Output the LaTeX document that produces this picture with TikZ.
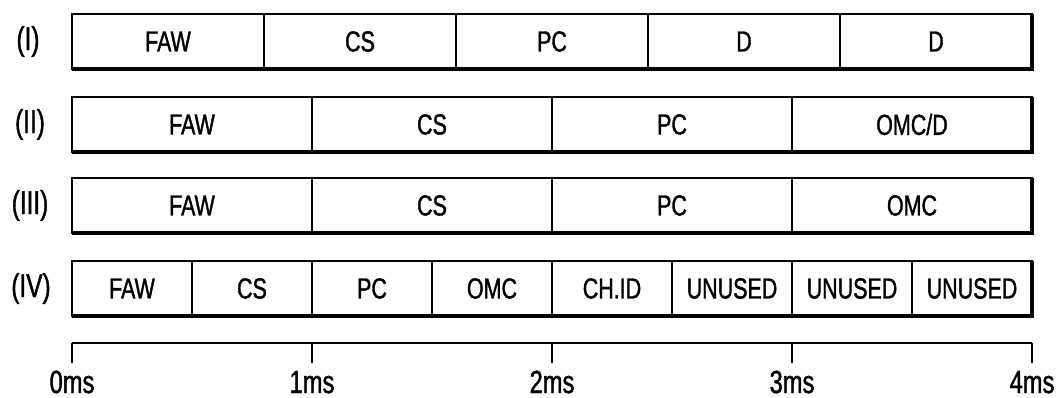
\documentclass[tikz,border=0pt]{standalone}
\usepackage{fontspec}
\setmainfont[FakeStretch=0.74,FakeBold=1.2]{Liberation Sans}
\begin{document}
\begin{tikzpicture}[x=1pt,y=-1pt,
  cell/.style={draw,line width=2pt,minimum height=55pt,inner sep=0pt,outer sep=0pt,font=\fontsize{29}{31}\selectfont},
  rowlab/.style={font=\fontsize{33}{35}\selectfont},
  axlab/.style={font=\fontsize{32}{34}\selectfont,anchor=base},
  heavy/.style={line width=3.6pt}]
\useasboundingbox (0,0) rectangle (1062,398);
% Row I
\foreach \lab [count=\i from 0] in {FAW,CS,PC,D,D}{
  \node[cell,minimum width=192pt] (a\i) at ({168+192*\i},41.5) {\lab};}
% Row II
\foreach \lab [count=\i from 0] in {FAW,CS,PC,OMC/D}{
  \node[cell,minimum width=240pt] (b\i) at ({192+240*\i},124.5) {\lab};}
% Row III
\foreach \lab [count=\i from 0] in {FAW,CS,PC,OMC}{
  \node[cell,minimum width=240pt] (c\i) at ({192+240*\i},205.5) {\lab};}
% Row IV
\foreach \lab [count=\i from 0] in {FAW,CS,PC,OMC,CH.ID,UNUSED,UNUSED,UNUSED}{
  \node[cell,minimum width=120pt] (d\i) at ({132+120*\i},288.5) {\lab};}
% heavier bottom and right edges
\draw[heavy] (a0.south west) -- (a4.south east) -- (a4.north east);
\draw[heavy] (b0.south west) -- (b3.south east) -- (b3.north east);
\draw[heavy] (c0.south west) -- (c3.south east) -- (c3.north east);
\draw[heavy] (d0.south west) -- (d7.south east) -- (d7.north east);
% row labels
\node[rowlab] (l1) at (28,41.5) {(I)};
\node[rowlab] (l2) at (30,124.5) {(II)};
\node[rowlab] (l3) at (30,205.5) {(III)};
\node[rowlab] (l4) at (31,288.5) {(IV)};
% time axis
\foreach \i in {0,...,4}{
  \coordinate (t\i) at ({72+240*\i},343);
  \coordinate (u\i) at ({72+240*\i},363);
  \draw[line width=2pt] (t\i) -- (u\i);
  \node[axlab] (m\i) at ({72+240*\i},393) {\i ms};}
\draw[line width=2.4pt] (t0) -- (t4);
\end{tikzpicture}
\end{document}
